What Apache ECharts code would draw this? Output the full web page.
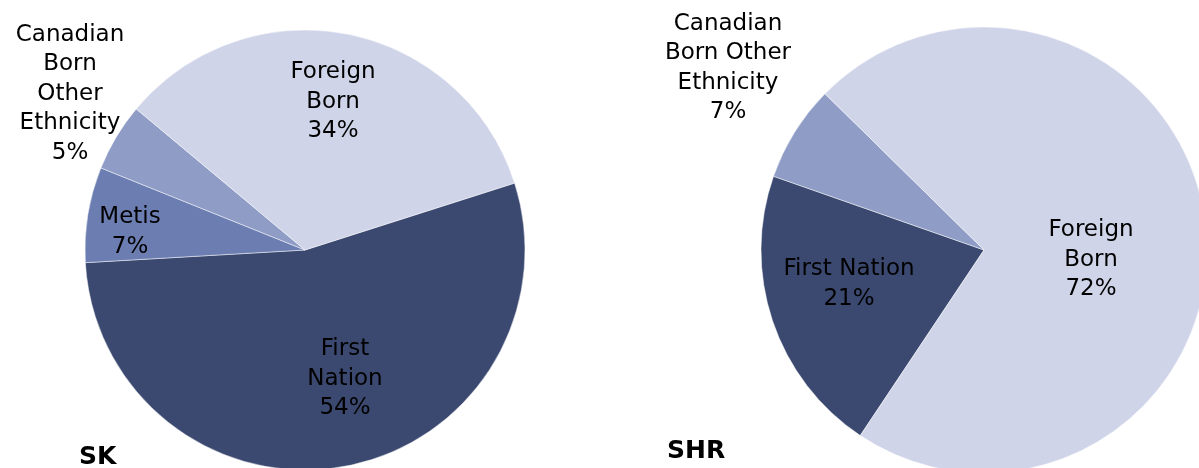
<!DOCTYPE html>
<html>
<head>
<meta charset="utf-8">
<script src="https://cdn.jsdelivr.net/npm/echarts@6/dist/echarts.min.js"></script>
<style>
html,body{margin:0;padding:0;background:#fff;}
#chart{width:1199px;height:468px;}
</style>
</head>
<body>
<div id="chart"></div>
<script>
// ---- data ----
var categories = ['First Nation', 'Metis', 'Canadian Born Other Ethnicity', 'Foreign Born'];
var skValues = [54, 7, 5, 34];
var shrValues = [21, 0, 7, 72];
var skLabels = ['First\nNation', 'Metis', 'Canadian\nBorn\nOther\nEthnicity', 'Foreign\nBorn'];
var shrLabels = ['First Nation', 'Metis', 'Canadian\nBorn Other\nEthnicity', 'Foreign\nBorn'];
var colors = ['#3B4970', '#6C7DB2', '#8E9CC6', '#CFD4E8'];

// label placement (layout only)
var skLabelPos = [[345, 379], [130, 232], [70, 94], [333, 102]];
var shrLabelPos = [[849, 284], null, [728, 68], [1091, 260]];

function buildData(values, labels) {
  var d = [];
  for (var i = 0; i < values.length; i++) {
    if (values[i] > 0) {
      d.push({ name: categories[i], value: values[i], labelText: labels[i], catIndex: i,
               itemStyle: { color: colors[i] } });
    }
  }
  return d;
}
var skData = buildData(skValues, skLabels);
var shrData = buildData(shrValues, shrLabels);

var labelStyle = {
  show: true,
  position: 'inside',
  fontFamily: 'DejaVu Sans',
  fontSize: 23,
  lineHeight: 29.5,
  color: '#000',
  align: 'center',
  formatter: function (p) { return p.data.labelText + '\n' + p.value + '%'; }
};

function layoutFor(data, pos) {
  return function (params) {
    var item = data[params.dataIndex];
    var p = pos[item.catIndex];
    return { x: p[0], y: p[1], align: 'center', verticalAlign: 'middle' };
  };
}

var chart = echarts.init(document.getElementById('chart'));
chart.setOption({
  animation: false,
  backgroundColor: '#fff',
  title: [
    { text: 'SK', left: 74, top: 440, textStyle: { fontFamily: 'DejaVu Sans', fontWeight: 'bold', fontSize: 25, color: '#000' } },
    { text: 'SHR', left: 662, top: 434, textStyle: { fontFamily: 'DejaVu Sans', fontWeight: 'bold', fontSize: 25, color: '#000' } }
  ],
  series: [
    {
      type: 'pie',
      center: [305, 250],
      radius: 220,
      startAngle: 17.7,
      clockwise: true,
      data: skData,
      label: labelStyle,
      labelLine: { show: false },
      itemStyle: { borderColor: 'rgba(255,255,255,0.6)', borderWidth: 0.8 },
      emphasis: { disabled: true },
      labelLayout: layoutFor(skData, skLabelPos)
    },
    {
      type: 'pie',
      center: [984, 250],
      radius: 223,
      startAngle: 236.3,
      clockwise: true,
      data: shrData,
      label: labelStyle,
      labelLine: { show: false },
      itemStyle: { borderColor: 'rgba(255,255,255,0.6)', borderWidth: 0.8 },
      emphasis: { disabled: true },
      labelLayout: layoutFor(shrData, shrLabelPos)
    }
  ]
});
</script>
</body>
</html>
